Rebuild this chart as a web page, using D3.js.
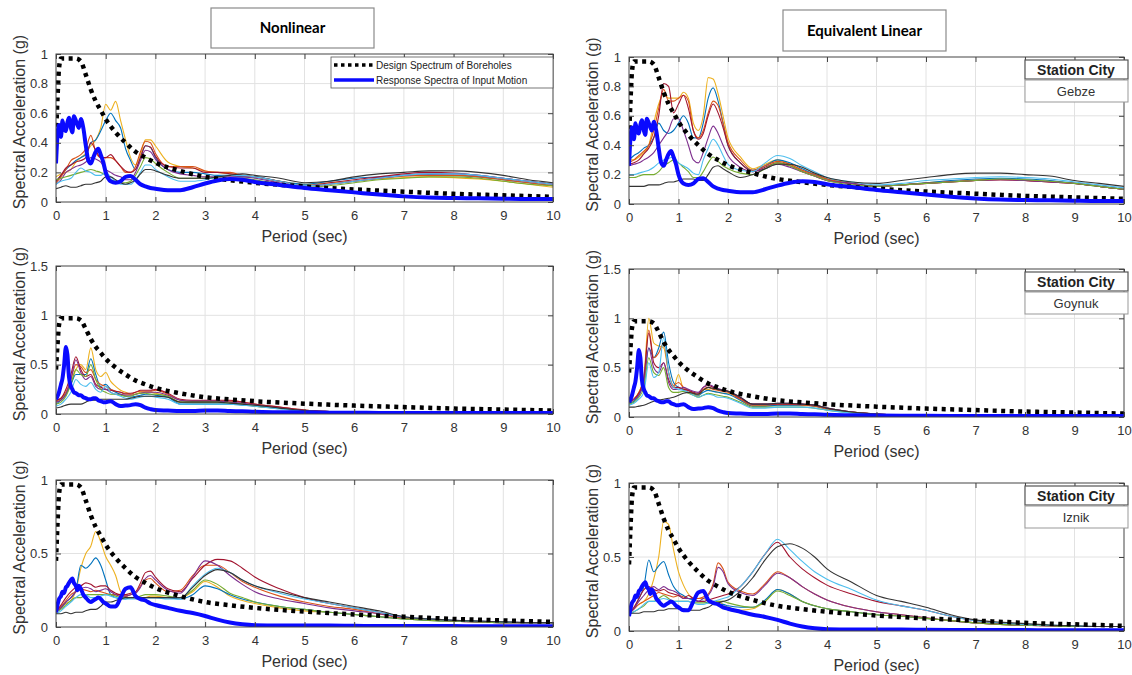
<!DOCTYPE html>
<html>
<head>
<meta charset="utf-8">
<script src="https://cdn.jsdelivr.net/npm/d3@7"></script>
<style>
  body { margin: 0; background: #fff; }
  svg text { font-family: "Liberation Sans", Arial, sans-serif; }
</style>
</head>
<body>
<div id="chart"></div>
<script>
// Periods (sec) used by the site response curves
var periods = [0,0.1,0.2,0.3,0.4,0.5,0.6,0.7,0.8,0.9,1,1.1,1.2,1.3,1.4,1.5,1.6,1.7,1.8,1.9,
  2,2.25,2.5,2.75,3,3.25,3.5,3.75,4,4.5,5,5.5,6,6.5,7,7.5,8,8.5,9,9.5,10];

// Design spectrum of boreholes (same in every panel)
var designPeriods = [0,0.03,0.06,0.1,0.2,0.3,0.4,0.5,0.6,0.7,0.8,0.9,1,1.2,1.4,1.6,1.8,2,2.5,3,3.5,4,5,6,7,8,9,10];
var designSA = [0.45,0.7,0.9,0.97,0.97,0.97,0.97,0.95,0.86,0.76,0.68,0.62,0.56,0.47,0.4,0.34,0.3,0.265,0.21,0.17,0.148,0.13,0.105,0.085,0.07,0.055,0.045,0.035];

// Response spectra of input motion
var inputPeriods = [0,0.03,0.06,0.1,0.13,0.16,0.2,0.23,0.26,0.3,0.33,0.36,0.4,0.43,0.46,0.5,0.55,0.6,0.65,0.7,
  0.75,0.8,0.85,0.9,0.95,1,1.1,1.2,1.3,1.4,1.5,1.6,1.7,1.8,1.9,2,2.25,2.5,2.75,3,
  3.25,3.5,3.75,4,4.5,5,5.5,6,6.5,7,7.5,8,8.5,9,9.5,10];
var inputGebze = [.26,.45,.52,.44,.55,.5,.48,.54,.57,.5,.47,.58,.55,.52,.5,.56,.5,.38,.28,.26,
  .3,.34,.36,.32,.27,.2,.14,.13,.14,.17,.175,.15,.12,.105,.095,.09,.08,.08,.1,.125,
  .145,.155,.15,.135,.115,.095,.08,.065,.05,.038,.03,.027,.025,.022,.02,.02];
var inputGoynuk = [.15,.18,.22,.3,.36,.48,.68,.6,.38,.28,.25,.22,.21,.2,.19,.19,.17,.16,.15,.15,
  .16,.16,.14,.13,.12,.12,.13,.1,.08,.085,.09,.1,.09,.065,.05,.04,.035,.03,.03,.035,
  .035,.03,.028,.022,.018,.015,.013,.012,.011,.01,.01,.01,.01,.01,.01,.01];
var inputIznik = [.1,.15,.19,.21,.24,.23,.27,.28,.3,.32,.33,.3,.28,.25,.28,.26,.22,.2,.18,.17,
  .18,.19,.2,.19,.17,.16,.14,.14,.2,.26,.27,.21,.19,.18,.16,.15,.13,.11,.095,.075,
  .05,.03,.018,.012,.01,.01,.01,.008,.007,.007,.006,.006,.005,.005,.005,.005];

// Site curves, order: yellow, blue, orange, dark red, purple, green, cyan, black
var seriesColors = ["#EDB120", "#0072BD", "#D95319", "#A2142F", "#7E2F8E", "#77AC30", "#4DBEEE", "#333333"];

var gebzeNonlinear = [
  [.17,.19,.2,.22,.27,.3,.33,.38,.42,.5,.66,.62,.68,.55,.42,.3,.25,.32,.42,.42,.38,.27,.24,.23,.21,.2,.19,.18,.17,.14,.12,.13,.14,.155,.165,.17,.165,.155,.14,.12,.1],
  [.14,.18,.22,.25,.28,.3,.32,.4,.42,.48,.55,.6,.55,.5,.36,.28,.22,.3,.38,.37,.3,.22,.2,.2,.19,.18,.18,.17,.17,.14,.12,.14,.16,.17,.18,.185,.18,.17,.15,.13,.11],
  [.13,.17,.22,.28,.3,.32,.36,.45,.34,.3,.3,.3,.28,.24,.2,.2,.24,.34,.41,.4,.33,.24,.24,.24,.21,.2,.2,.18,.17,.14,.11,.12,.14,.16,.175,.18,.18,.17,.15,.13,.11],
  [.14,.18,.23,.25,.27,.28,.3,.4,.35,.3,.3,.32,.28,.24,.21,.2,.22,.3,.38,.37,.31,.24,.23,.23,.2,.2,.19,.18,.17,.14,.11,.13,.15,.17,.19,.2,.195,.18,.16,.14,.12],
  [.12,.15,.2,.22,.24,.25,.27,.3,.29,.27,.22,.2,.18,.17,.15,.15,.2,.28,.35,.34,.29,.22,.19,.18,.17,.17,.17,.17,.16,.13,.11,.12,.14,.16,.18,.19,.19,.18,.16,.14,.12],
  [.15,.16,.17,.18,.19,.2,.21,.22,.21,.2,.18,.15,.14,.13,.13,.14,.18,.24,.3,.29,.26,.2,.16,.16,.16,.16,.16,.16,.15,.12,.1,.11,.13,.15,.16,.17,.17,.16,.14,.12,.11],
  [.12,.14,.15,.16,.2,.23,.21,.2,.18,.18,.2,.17,.14,.12,.12,.12,.15,.2,.25,.25,.22,.17,.14,.14,.15,.17,.18,.18,.17,.14,.11,.12,.14,.16,.18,.19,.19,.18,.16,.14,.12],
  [.09,.1,.11,.1,.1,.11,.12,.12,.13,.14,.17,.17,.15,.13,.12,.13,.15,.19,.22,.22,.21,.18,.16,.16,.16,.17,.18,.19,.18,.16,.13,.14,.17,.19,.2,.21,.21,.2,.18,.15,.13]
];

var gebzeEquivalent = [
  [.3,.3,.32,.35,.4,.55,.68,.75,.72,.72,.72,.76,.72,.55,.5,.6,.86,.85,.75,.6,.45,.32,.24,.27,.3,.27,.23,.2,.17,.14,.12,.13,.145,.155,.165,.17,.165,.155,.14,.12,.1],
  [.3,.33,.35,.38,.4,.45,.55,.5,.48,.5,.55,.6,.55,.45,.45,.55,.72,.79,.7,.55,.4,.28,.23,.26,.3,.28,.24,.2,.17,.14,.12,.13,.145,.16,.17,.175,.17,.16,.14,.12,.1],
  [.28,.3,.33,.36,.4,.5,.65,.78,.7,.7,.72,.74,.7,.5,.45,.5,.62,.7,.67,.55,.42,.3,.23,.26,.29,.27,.23,.2,.17,.14,.12,.13,.14,.15,.16,.165,.16,.15,.14,.12,.1],
  [.27,.28,.3,.34,.38,.45,.6,.82,.8,.62,.68,.74,.65,.5,.44,.48,.6,.68,.62,.52,.4,.28,.22,.25,.28,.26,.22,.19,.16,.14,.12,.13,.14,.15,.16,.165,.16,.15,.14,.12,.1],
  [.26,.27,.28,.3,.32,.35,.4,.45,.5,.58,.58,.5,.4,.3,.28,.35,.45,.53,.48,.4,.33,.25,.22,.24,.27,.25,.22,.19,.16,.14,.12,.13,.14,.15,.16,.165,.16,.15,.14,.12,.1],
  [.18,.18,.19,.2,.2,.2,.22,.26,.28,.3,.28,.25,.22,.18,.18,.22,.28,.32,.29,.26,.24,.21,.2,.24,.28,.26,.22,.19,.16,.13,.12,.13,.14,.15,.16,.17,.165,.155,.14,.12,.1],
  [.2,.2,.21,.22,.23,.25,.28,.3,.31,.32,.28,.26,.24,.21,.2,.3,.38,.44,.4,.33,.27,.23,.22,.28,.33,.31,.26,.22,.18,.15,.13,.14,.16,.17,.18,.185,.18,.17,.15,.13,.11],
  [.12,.12,.12,.12,.13,.13,.13,.14,.15,.15,.16,.17,.17,.17,.16,.16,.2,.25,.26,.24,.22,.18,.2,.24,.27,.27,.25,.21,.18,.15,.14,.16,.18,.2,.21,.21,.2,.19,.16,.14,.12]
];

var goynukNonlinear = [
  [.12,.15,.2,.3,.45,.5,.45,.67,.45,.38,.42,.33,.28,.24,.22,.2,.2,.22,.22,.22,.21,.18,.12,.11,.11,.11,.11,.1,.09,.06,.035,.025,.02,.015,.012,.01,.01,.01,.01,.01,.01],
  [.1,.14,.2,.3,.4,.4,.4,.56,.4,.28,.3,.25,.22,.2,.18,.17,.18,.19,.2,.2,.19,.17,.1,.1,.1,.1,.1,.09,.08,.055,.03,.02,.015,.012,.01,.01,.01,.01,.01,.01,.01],
  [.13,.16,.22,.35,.5,.48,.42,.45,.35,.3,.28,.25,.23,.22,.2,.2,.22,.23,.23,.23,.24,.2,.14,.13,.13,.13,.13,.12,.1,.07,.04,.025,.02,.015,.012,.01,.01,.01,.01,.01,.01],
  [.14,.16,.25,.4,.58,.45,.38,.4,.3,.27,.25,.24,.23,.22,.21,.21,.22,.24,.24,.24,.25,.21,.15,.14,.14,.14,.14,.12,.1,.07,.04,.025,.02,.015,.012,.01,.01,.01,.01,.01,.01],
  [.12,.14,.2,.35,.55,.42,.35,.38,.28,.25,.25,.22,.2,.2,.19,.19,.2,.21,.22,.22,.22,.19,.14,.13,.13,.13,.12,.11,.09,.06,.035,.025,.02,.015,.012,.01,.01,.01,.01,.01,.01],
  [.1,.12,.18,.3,.45,.4,.38,.5,.35,.25,.22,.2,.2,.19,.18,.18,.2,.21,.21,.2,.2,.18,.12,.12,.12,.12,.11,.1,.08,.055,.03,.02,.015,.012,.01,.01,.01,.01,.01,.01,.01],
  [.08,.1,.15,.22,.35,.3,.28,.32,.25,.22,.28,.22,.2,.18,.16,.15,.16,.17,.18,.18,.17,.15,.1,.1,.1,.1,.1,.09,.08,.05,.03,.02,.015,.012,.01,.01,.01,.01,.01,.01,.01],
  [.06,.07,.09,.1,.1,.1,.12,.14,.14,.15,.15,.15,.15,.15,.15,.16,.17,.18,.18,.18,.18,.17,.12,.12,.12,.12,.11,.1,.09,.06,.035,.025,.02,.015,.012,.01,.01,.01,.01,.01,.01]
];

var goynukEquivalent = [
  [.15,.18,.25,.4,1.0,.75,.72,.7,.45,.3,.43,.28,.25,.23,.21,.28,.28,.26,.25,.24,.24,.17,.11,.11,.12,.12,.12,.11,.08,.05,.03,.02,.015,.012,.01,.01,.01,.01,.01,.01,.01],
  [.14,.16,.22,.35,.7,.6,.7,.86,.55,.35,.3,.28,.27,.24,.22,.25,.27,.26,.25,.24,.23,.17,.11,.11,.12,.12,.12,.11,.08,.05,.03,.02,.015,.012,.01,.01,.01,.01,.01,.01,.01],
  [.15,.18,.25,.4,.88,.6,.65,.75,.45,.32,.35,.3,.27,.24,.23,.28,.3,.28,.27,.26,.25,.18,.12,.12,.13,.13,.12,.11,.08,.05,.03,.02,.015,.012,.01,.01,.01,.01,.01,.01,.01],
  [.16,.18,.24,.38,.85,.55,.5,.55,.38,.3,.3,.28,.27,.25,.24,.3,.32,.3,.28,.27,.26,.19,.13,.13,.13,.13,.13,.12,.09,.05,.03,.02,.015,.012,.01,.01,.01,.01,.01,.01,.01],
  [.16,.18,.22,.35,.7,.5,.45,.55,.35,.28,.28,.3,.28,.26,.25,.3,.33,.31,.29,.27,.26,.2,.13,.13,.14,.14,.13,.12,.09,.05,.03,.02,.015,.012,.01,.01,.01,.01,.01,.01,.01],
  [.13,.15,.2,.3,.6,.45,.42,.5,.3,.25,.25,.26,.24,.22,.2,.22,.24,.23,.22,.21,.2,.15,.1,.1,.1,.1,.1,.09,.07,.045,.025,.02,.015,.012,.01,.01,.01,.01,.01,.01,.01],
  [.12,.14,.18,.25,.55,.4,.45,.8,.45,.3,.28,.27,.25,.22,.2,.22,.23,.22,.2,.2,.19,.14,.09,.09,.1,.1,.1,.09,.07,.04,.025,.02,.015,.012,.01,.01,.01,.01,.01,.01,.01],
  [.1,.1,.11,.12,.14,.16,.17,.18,.19,.2,.22,.24,.25,.24,.23,.27,.3,.29,.28,.27,.26,.2,.13,.13,.14,.14,.13,.12,.09,.05,.03,.02,.015,.012,.01,.01,.01,.01,.01,.01,.01]
];

var iznikNonlinear = [
  [.1,.13,.16,.18,.25,.4,.5,.55,.65,.58,.48,.42,.35,.24,.21,.2,.2,.2,.2,.21,.21,.2,.2,.24,.31,.27,.21,.18,.16,.13,.11,.1,.085,.07,.055,.045,.04,.035,.03,.03,.03],
  [.1,.13,.17,.2,.25,.42,.4,.43,.47,.42,.32,.22,.2,.19,.19,.2,.2,.2,.2,.2,.2,.2,.19,.22,.28,.26,.22,.19,.17,.14,.12,.1,.085,.07,.055,.045,.04,.035,.03,.03,.03],
  [.1,.14,.18,.22,.24,.26,.25,.24,.25,.24,.23,.22,.22,.22,.21,.22,.23,.28,.32,.33,.3,.24,.25,.35,.42,.42,.37,.31,.27,.21,.17,.14,.12,.09,.06,.05,.04,.035,.03,.03,.03],
  [.1,.15,.2,.24,.27,.28,.3,.29,.27,.28,.28,.25,.23,.22,.22,.23,.24,.3,.37,.38,.34,.26,.24,.33,.42,.46,.45,.4,.34,.26,.2,.16,.13,.1,.07,.055,.045,.04,.035,.03,.03],
  [.1,.13,.17,.2,.24,.26,.27,.26,.24,.25,.26,.24,.22,.21,.21,.22,.23,.27,.33,.35,.32,.25,.23,.34,.45,.42,.35,.29,.24,.19,.16,.13,.11,.09,.065,.05,.04,.035,.03,.03,.03],
  [.1,.12,.15,.18,.2,.2,.22,.22,.22,.22,.22,.22,.21,.2,.2,.2,.2,.21,.22,.22,.22,.21,.2,.25,.32,.29,.23,.2,.17,.14,.12,.1,.085,.07,.055,.045,.04,.035,.03,.03,.03],
  [.09,.11,.14,.17,.2,.22,.22,.2,.2,.21,.22,.21,.2,.2,.19,.19,.19,.2,.2,.2,.2,.19,.19,.28,.36,.4,.37,.32,.28,.23,.19,.16,.13,.1,.07,.055,.045,.04,.035,.03,.03],
  [.09,.09,.1,.09,.1,.1,.11,.12,.12,.14,.17,.17,.18,.19,.2,.2,.2,.2,.2,.2,.2,.2,.2,.27,.35,.39,.37,.32,.28,.24,.2,.17,.14,.11,.07,.055,.045,.04,.035,.03,.03]
];

var iznikEquivalent = [
  [.12,.15,.18,.2,.25,.35,.5,.74,.72,.55,.4,.31,.25,.22,.22,.22,.2,.19,.2,.18,.16,.14,.15,.2,.28,.25,.2,.17,.15,.13,.11,.1,.085,.07,.055,.045,.04,.035,.03,.03,.03],
  [.12,.15,.22,.3,.48,.4,.44,.47,.38,.3,.26,.24,.22,.21,.2,.2,.19,.19,.18,.18,.17,.16,.16,.21,.28,.25,.2,.17,.15,.13,.11,.1,.085,.07,.055,.045,.04,.035,.03,.03,.03],
  [.12,.15,.18,.2,.22,.24,.26,.25,.24,.23,.24,.23,.22,.22,.22,.23,.25,.32,.46,.42,.33,.27,.25,.32,.4,.36,.3,.25,.21,.16,.13,.11,.09,.07,.055,.045,.04,.035,.03,.03,.03],
  [.12,.16,.22,.28,.3,.28,.27,.28,.26,.25,.24,.22,.24,.22,.2,.2,.21,.22,.23,.24,.25,.3,.4,.52,.6,.5,.42,.36,.31,.25,.2,.17,.14,.1,.07,.05,.04,.035,.03,.03,.03],
  [.12,.15,.2,.24,.28,.3,.28,.3,.28,.27,.25,.22,.22,.22,.2,.22,.24,.3,.43,.4,.32,.26,.24,.31,.39,.36,.3,.25,.21,.16,.13,.11,.09,.07,.055,.045,.04,.035,.03,.03,.03],
  [.12,.13,.15,.17,.2,.2,.22,.24,.22,.2,.2,.2,.2,.19,.19,.19,.19,.19,.2,.2,.19,.17,.16,.2,.27,.24,.2,.17,.15,.13,.11,.1,.085,.07,.055,.045,.04,.035,.03,.03,.03],
  [.11,.13,.15,.18,.2,.2,.21,.22,.21,.2,.2,.2,.2,.19,.18,.18,.19,.2,.21,.22,.23,.3,.4,.52,.62,.55,.47,.4,.35,.28,.21,.17,.14,.1,.07,.055,.045,.04,.035,.03,.03],
  [.12,.12,.12,.13,.13,.13,.14,.14,.15,.15,.15,.15,.14,.14,.14,.15,.16,.18,.19,.2,.21,.27,.36,.48,.57,.59,.56,.5,.42,.33,.24,.2,.16,.11,.075,.06,.05,.04,.035,.03,.03]
];

var xTicks = [0,1,2,3,4,5,6,7,8,9,10];
var yTicksTop = [0,0.2,0.4,0.6,0.8,1];
var yTicksMid = [0,0.5,1,1.5];
var yTicksBot = [0,0.5,1];
var legendLabels = ["Design Spectrum of Boreholes", "Response Spectra of Input Motion"];

var svgWidth = 1132;
var svgHeight = 675;

var svg = d3.select("#chart")
  .append("svg")
  .attr("width", svgWidth)
  .attr("height", svgHeight);

// panel layout
var panels = [
  {left: 56,  top: 54,  w: 497, h: 148, yMax: 1,   yTicks: yTicksTop, series: gebzeNonlinear,   input: inputGebze,  legend: true},
  {left: 629, top: 57,  w: 495, h: 147, yMax: 1,   yTicks: yTicksTop, series: gebzeEquivalent,  input: inputGebze,  city: "Gebze"},
  {left: 56,  top: 266, w: 497, h: 148, yMax: 1.5, yTicks: yTicksMid, series: goynukNonlinear,  input: inputGoynuk},
  {left: 629, top: 269, w: 495, h: 148, yMax: 1.5, yTicks: yTicksMid, series: goynukEquivalent, input: inputGoynuk, city: "Goynuk"},
  {left: 56,  top: 480, w: 497, h: 147, yMax: 1,   yTicks: yTicksBot, series: iznikNonlinear,   input: inputIznik},
  {left: 629, top: 483, w: 495, h: 148, yMax: 1,   yTicks: yTicksBot, series: iznikEquivalent,  input: inputIznik,  city: "Iznik"}
];

panels.forEach(function(p, i) {
  var xScale = d3.scaleLinear().domain([0, 10]).range([0, p.w]);
  var yScale = d3.scaleLinear().domain([0, p.yMax]).range([p.h, 0]);

  var g = svg.append("g").attr("transform", `translate(${p.left}, ${p.top})`);

  g.append("rect").attr("width", p.w).attr("height", p.h).attr("fill", "#fff");

  g.append("clipPath").attr("id", "clip" + i)
    .append("rect").attr("width", p.w).attr("height", p.h);

  // grid
  g.append("g").selectAll("line").data(xTicks.slice(1, -1)).enter().append("line")
    .attr("x1", d => xScale(d)).attr("x2", d => xScale(d))
    .attr("y1", 0).attr("y2", p.h)
    .attr("stroke", "#e2e2e2").attr("stroke-width", 1);
  g.append("g").selectAll("line").data(p.yTicks.slice(1, -1)).enter().append("line")
    .attr("x1", 0).attr("x2", p.w)
    .attr("y1", d => yScale(d)).attr("y2", d => yScale(d))
    .attr("stroke", "#e2e2e2").attr("stroke-width", 1);

  var plot = g.append("g").attr("clip-path", `url(#clip${i})`);

  var line = d3.line()
    .x(d => xScale(d[0]))
    .y(d => yScale(d[1]))
    .curve(d3.curveMonotoneX);

  p.series.forEach(function(s, k) {
    plot.append("path")
      .datum(d3.zip(periods, s))
      .attr("d", line)
      .attr("fill", "none")
      .attr("stroke", seriesColors[k])
      .attr("stroke-width", 1.1);
  });

  plot.append("path")
    .datum(d3.zip(designPeriods, designSA))
    .attr("d", line)
    .attr("fill", "none")
    .attr("stroke", "#000")
    .attr("stroke-width", 4.5)
    .attr("stroke-dasharray", "4,4.5");

  plot.append("path")
    .datum(d3.zip(inputPeriods, p.input))
    .attr("d", line)
    .attr("fill", "none")
    .attr("stroke", "#0a0aff")
    .attr("stroke-width", 4)
    .attr("stroke-linejoin", "round");

  // axes, ticks pointing inward
  var bottomAxis = d3.axisBottom(xScale).tickValues(xTicks).tickSize(-5).tickPadding(9);
  var topAxis = d3.axisTop(xScale).tickValues(xTicks).tickSize(-5).tickFormat("");
  var leftAxis = d3.axisLeft(yScale).tickValues(p.yTicks).tickSize(-5).tickPadding(8).tickFormat(d3.format("~g"));
  var rightAxis = d3.axisRight(yScale).tickValues(p.yTicks).tickSize(-5).tickFormat("");

  g.append("g").attr("transform", `translate(0, ${p.h})`).call(bottomAxis);
  g.append("g").call(topAxis);
  g.append("g").call(leftAxis);
  g.append("g").attr("transform", `translate(${p.w}, 0)`).call(rightAxis);

  g.selectAll(".domain").remove();
  g.selectAll(".tick line").attr("stroke", "#444");
  g.selectAll(".tick text").attr("fill", "#333").style("font-size", "13px");

  g.append("rect").attr("width", p.w).attr("height", p.h)
    .attr("fill", "none").attr("stroke", "#444").attr("stroke-width", 1);

  // axis labels
  g.append("text")
    .attr("x", p.w / 2).attr("y", p.h + 40)
    .attr("text-anchor", "middle")
    .attr("fill", "#333").style("font-size", "16px")
    .text("Period (sec)");

  g.append("text")
    .attr("transform", `translate(-37, ${p.h / 2 - 6}) rotate(-90)`)
    .attr("text-anchor", "middle")
    .attr("dy", "0.35em")
    .attr("fill", "#333").style("font-size", "16px")
    .text("Spectral Acceleration (g)");

  // legend on the first panel
  if (p.legend) {
    var lg = g.append("g").attr("transform", "translate(275, 3)");
    lg.append("rect").attr("width", 222).attr("height", 31)
      .attr("fill", "#fff").attr("stroke", "#555").attr("stroke-width", 0.8);
    lg.append("line").attr("x1", 3).attr("x2", 43).attr("y1", 8).attr("y2", 8)
      .attr("stroke", "#000").attr("stroke-width", 3.5).attr("stroke-dasharray", "3.5,3.5");
    lg.append("line").attr("x1", 3).attr("x2", 43).attr("y1", 23).attr("y2", 23)
      .attr("stroke", "#0a0aff").attr("stroke-width", 3.5);
    lg.selectAll("text.leg").data(legendLabels).enter().append("text")
      .attr("class", "leg")
      .attr("x", 45).attr("y", (d, j) => 8 + j * 15)
      .attr("dy", "0.35em")
      .attr("fill", "#222").style("font-size", "10px")
      .text(d => d);
  }

  // station city box
  if (p.city) {
    var cb = g.append("g").attr("transform", "translate(396, 3)");
    cb.append("rect").attr("width", 103).attr("height", 19)
      .attr("fill", "#fff").attr("stroke", "#555").attr("stroke-width", 1.2);
    cb.append("text").attr("x", 51).attr("y", 10).attr("dy", "0.35em")
      .attr("text-anchor", "middle").attr("fill", "#222")
      .style("font-size", "14px").style("font-weight", "bold")
      .text("Station City");
    cb.append("rect").attr("y", 20).attr("width", 103).attr("height", 22)
      .attr("fill", "#fff").attr("stroke", "#999").attr("stroke-width", 1);
    cb.append("text").attr("x", 51).attr("y", 31).attr("dy", "0.35em")
      .attr("text-anchor", "middle").attr("fill", "#333")
      .style("font-size", "13px")
      .text(p.city);
  }
});

// column titles
var titles = [
  {text: "Nonlinear", x: 211, y: 8, w: 163, h: 40},
  {text: "Equivalent Linear", x: 783, y: 10, w: 163, h: 41}
];
titles.forEach(function(t) {
  svg.append("rect").attr("x", t.x).attr("y", t.y).attr("width", t.w).attr("height", t.h)
    .attr("fill", "#fff").attr("stroke", "#8a8a8a").attr("stroke-width", 1.2);
  svg.append("text").attr("x", t.x + t.w / 2).attr("y", t.y + t.h / 2)
    .attr("dy", "0.35em").attr("text-anchor", "middle")
    .style("font-family", "Lato, 'Open Sans', sans-serif")
    .style("font-weight", "bold").style("font-size", "15px")
    .attr("fill", "#000")
    .text(t.text);
});
</script>
</body>
</html>
